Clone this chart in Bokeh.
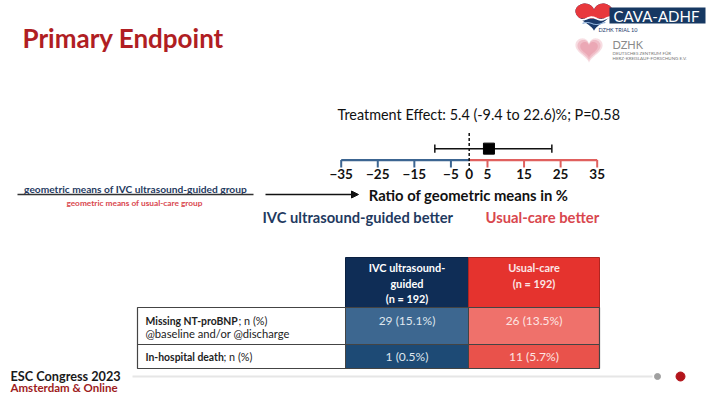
import numpy as np
from bokeh.plotting import figure
from bokeh.models import Range1d, FixedTicker, Arrow, NormalHead
from bokeh.layouts import column
from bokeh.embed import file_html
from bokeh.resources import INLINE
from bokeh.core.properties import value

# ---------------- data ----------------
tick_values = [-35, -25, -15, -5, 0, 5, 15, 25, 35]
effect_estimate = 5.4
effect_ci_low = -9.4
effect_ci_high = 22.6
effect_p = 0.58
group_names = ["IVC ultrasound-guided", "Usual-care"]
group_n = [192, 192]
row_titles = ["Missing NT-proBNP", "In-hospital death"]
row_suffix = "; n (%)"
row_subtitles = ["@baseline and/or @discharge", ""]
missing_n = [29, 26]
missing_pct = [15.1, 13.5]
death_n = [1, 11]
death_pct = [0.5, 5.7]

FONT = "Lato"
W = 706
NAVY = "#1f3a5f"
RED = "#d9474e"
AX_BLUE = "#3c6591"
AX_RED = "#e0605e"


def base_fig(h, xr, yr, xaxis=None):
    p = figure(width=W, height=h, x_range=xr, y_range=yr, output_backend="svg",
               toolbar_location=None, min_border=0, x_axis_location=xaxis,
               y_axis_location=None)
    p.grid.visible = False
    p.outline_line_color = None
    p.background_fill_color = "white"
    p.border_fill_color = "white"
    return p


def txt(p, x, y, s, size, color="#111", bold=False, align="left", alpha=1.0):
    p.text(x=[x], y=[y], text=[s], text_font=value(FONT), text_font_size=f"{size}px",
           text_font_style="bold" if bold else "normal", text_color=color,
           text_align=align, text_baseline="middle", text_alpha=alpha)


def heart(cx, cy, sx, sy):
    t = np.linspace(0, 2 * np.pi, 120)
    hx = 16 * np.sin(t) ** 3
    hy = 13 * np.cos(t) - 5 * np.cos(2 * t) - 2 * np.cos(3 * t) - np.cos(4 * t)
    return hx, hy, cx + hx * sx, cy - hy * sy


# ---------------- top figure: title + logos ----------------
fa = base_fig(95, Range1d(0, 706), Range1d(95, 0))
txt(fa, 22, 37, "Primary Endpoint", 26, "#b01e23", bold=True)

hcx, hcy = 593.5, 14.4
hx, hy, px, py = heart(hcx, hcy, 1.16, 0.95)
fa.patch(px, py, fill_color="#1b3a6b", line_color=None)
thr = -3.8
hy_top = np.maximum(hy, thr)
fa.patch(hcx + hx * 1.16, hcy - hy_top * 0.95, fill_color="#e8383d", line_color=None)
wx = np.linspace(577, 610, 40)
fa.line(wx, hcy - thr * 0.95 + 1.3 * np.sin((wx - 577) / 3.0), line_color="white", line_width=1.8)
wy2 = hcy - thr * 0.95 + 5 + 1.0 * np.sin((wx - 577) / 3.0 + 1.5)
fa.line(wx[6:34], wy2[6:34], line_color="#8fb0d8", line_width=1.2)
fa.quad(left=609, right=705, top=7, bottom=23, fill_color="#163862", line_color=None)
txt(fa, 613, 15.5, "CAVA-ADHF", 15, "white")
txt(fa, 598, 29, "DZHK TRIAL 10", 5.5, "#1b3a6b")
for s, a in [(0.85, 0.25), (0.72, 0.3), (0.55, 0.3)]:
    _, _, qx, qy = heart(588.5, 48, s, s)
    fa.patch(qx, qy, fill_color="#e0788a", fill_alpha=a, line_color=None)
txt(fa, 612, 44, "DZHK", 11, "#8a8a8a")
txt(fa, 612, 53, "DEUTSCHES ZENTRUM FÜR", 4.5, "#777777")
txt(fa, 612, 58, "HERZ-KREISLAUF-FORSCHUNG E.V.", 4.5, "#777777")

# ---------------- forest figure ----------------
x0 = 468.7
ppu = 3.657
fb = base_fig(86, Range1d((0 - x0) / ppu, (706 - x0) / ppu), Range1d(167, 95), xaxis="below")
ax = fb.xaxis[0]
ax.ticker = FixedTicker(ticks=tick_values)
ax.bounds = (min(tick_values), max(tick_values))
ax.axis_line_color = None
ax.major_tick_line_color = None
ax.minor_tick_line_color = None
ax.major_tick_out = 0
ax.major_tick_in = 0
ax.major_label_standoff = -2
ax.major_label_text_font = FONT
ax.major_label_text_font_style = "bold"
ax.major_label_text_font_size = "13.5px"
ax.major_label_text_color = "#111111"

lo, hi = min(tick_values), max(tick_values)
fb.segment(x0=[lo], y0=[157], x1=[0], y1=[157], line_color=AX_BLUE, line_width=2.2)
fb.segment(x0=[0], y0=[157], x1=[hi], y1=[157], line_color=AX_RED, line_width=2.2)
neg = [t for t in tick_values if t < 0]
pos = [t for t in tick_values if t > 0]
fb.segment(x0=neg, y0=[157] * len(neg), x1=neg, y1=[164] * len(neg), line_color=AX_BLUE, line_width=2)
fb.segment(x0=pos, y0=[157] * len(pos), x1=pos, y1=[164] * len(pos), line_color=AX_RED, line_width=2)
fb.segment(x0=[0], y0=[131], x1=[0], y1=[167], line_color="#111", line_width=1.5, line_dash="3 2")
fb.segment(x0=[effect_ci_low], y0=[146], x1=[effect_ci_high], y1=[146], line_color="#111", line_width=1.5)
fb.segment(x0=[effect_ci_low, effect_ci_high], y0=[142, 142], x1=[effect_ci_low, effect_ci_high],
           y1=[150, 150], line_color="#111", line_width=1.5)
fb.scatter(x=[effect_estimate], y=[146], marker="square", size=11, color="#000000")
fb.text(x=[(337 - x0) / ppu], y=[113],
        text=[f"Treatment Effect: {effect_estimate} ({effect_ci_low} to {effect_ci_high})%; P={effect_p}"],
        text_font=value(FONT), text_font_size="14.4px", text_color="#111",
        text_align="left", text_baseline="middle")

# ---------------- bottom figure ----------------
fc = base_fig(213, Range1d(0, 706), Range1d(394, 181))
txt(fc, 135, 188, "geometric means of IVC ultrasound-guided group", 10.2, NAVY, bold=True, align="center")
fc.segment(x0=[17], y0=[194], x1=[253], y1=[194], line_color="#333", line_width=1.3)
txt(fc, 134, 202, "geometric means of usual-care group", 8.3, RED, bold=True, align="center")
fc.add_layout(Arrow(end=NormalHead(size=7, fill_color="#111", line_color="#111"),
                    x_start=265, y_start=194, x_end=358, y_end=194,
                    line_color="#111", line_width=1.3))
txt(fc, 468, 194, "Ratio of geometric means in %", 14.8, "#111", bold=True, align="center")
txt(fc, 262, 216, f"{group_names[0]} better", 14.7, NAVY, bold=True)
txt(fc, 485, 216, f"{group_names[1]} better", 14.8, RED, bold=True)

# table
col_l = [345, 468]
col_r = [468, 599]
col_c = [(a + b) / 2 for a, b in zip(col_l, col_r)]
header_fill = ["#0f2d56", "#e5332e"]
row1_fill = ["#3d6790", "#ef716b"]
row2_fill = ["#1d4a75", "#e9524b"]
fc.quad(left=col_l, right=col_r, top=[257, 257], bottom=[307, 307], fill_color=header_fill,
        line_color=["#0a2040", "#b02520"], line_width=1)
fc.quad(left=col_l, right=col_r, top=[307, 307], bottom=[344, 344], fill_color=row1_fill, line_color=None)
fc.quad(left=col_l, right=col_r, top=[344, 344], bottom=[368, 368], fill_color=row2_fill, line_color=None)
fc.quad(left=[137], right=[599], top=[307], bottom=[368], fill_color=None, line_color="#444", line_width=1.2)
fc.segment(x0=[137], y0=[344], x1=[599], y1=[344], line_color="#444", line_width=1.2)
fc.segment(x0=[345, 468], y0=[307, 307], x1=[345, 468], y1=[368, 368], line_color="#444", line_width=1)

hdr_color = ["white", "#fbe6e6"]
txt(fc, col_c[0], 267, "IVC ultrasound-", 10.9, hdr_color[0], bold=True, align="center")
txt(fc, col_c[0], 282.5, "guided", 10.9, hdr_color[0], bold=True, align="center")
txt(fc, col_c[0], 298, f"(n = {group_n[0]})", 10.9, hdr_color[0], bold=True, align="center")
txt(fc, col_c[1], 267, group_names[1], 10.9, hdr_color[1], bold=True, align="center")
txt(fc, col_c[1], 282.5, f"(n = {group_n[1]})", 10.9, hdr_color[1], bold=True, align="center")

txt(fc, 145, 320, row_titles[0], 10.4, "#222", bold=True)
txt(fc, 238, 320, row_suffix, 10.8, "#222")
txt(fc, 145, 333, row_subtitles[0], 11.2, "#222")
txt(fc, 145, 356, row_titles[1], 10.4, "#222", bold=True)
txt(fc, 223, 356, row_suffix, 10.8, "#222")

val_color = ["#dfe6ee", "#fde5e3"]
for i in range(2):
    txt(fc, col_c[i], 320, f"{missing_n[i]} ({missing_pct[i]}%)", 12, val_color[i], align="center")
    txt(fc, col_c[i], 356, f"{death_n[i]} ({death_pct[i]}%)", 12, val_color[i], align="center")

# footer
fc.segment(x0=[132], y0=[376], x1=[652], y1=[376], line_color="#e6e6e6", line_width=2)
fc.scatter(x=[657], y=[376], size=6, color="#a0a0a0")
fc.scatter(x=[680], y=[376], size=9, color="#b3141b")
txt(fc, 10, 375, "ESC Congress 2023", 12.7, "#1a1a1a", bold=True)
txt(fc, 10, 387, "Amsterdam & Online", 11.5, "#9e1b20", bold=True)

layout = column(fa, fb, fc, spacing=0)
open("out.html", "w").write(file_html(layout, INLINE))
